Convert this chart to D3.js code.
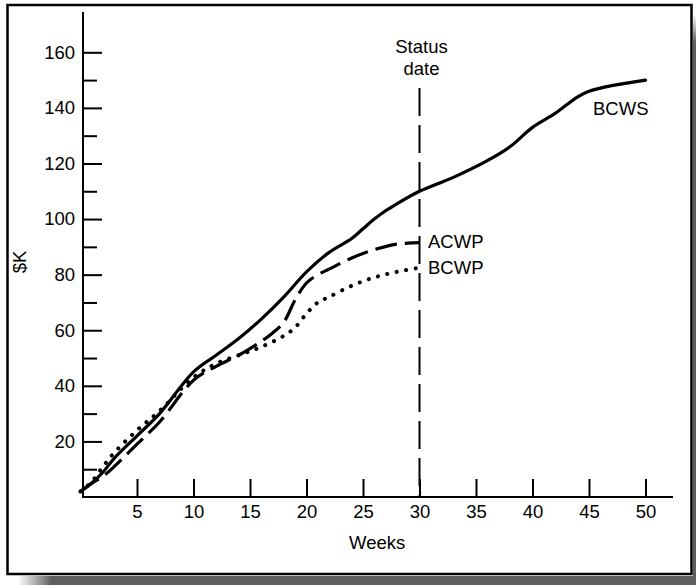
<!DOCTYPE html>
<html>
<head>
<meta charset="utf-8">
<script src="https://cdn.jsdelivr.net/npm/d3@7"></script>
<style>
  html, body { margin: 0; padding: 0; background: #fff; }
  svg { display: block; font-family: "Liberation Sans", Arial, Helvetica, sans-serif; }
</style>
</head>
<body>
<svg id="chart" width="696" height="585"></svg>
<script>
// Earned-value curves, $K by week
const bcwsWeeks  = [0, 1, 2, 3, 5, 7, 10, 12, 14, 16, 18, 20, 22, 24, 25, 26, 27, 28, 30, 33, 36, 38, 40, 42, 44, 45, 47, 50];
const bcwsValues = [2, 5, 9, 14, 22, 30, 45, 51, 57, 64, 72, 81, 88, 93, 96.5, 100, 103, 105.5, 110, 115, 121, 126, 133, 138, 144, 146, 148, 150];

const acwpWeeks  = [0, 1, 2, 3, 5, 7, 10, 12, 14, 16, 17, 18, 19, 20, 21, 22, 24, 26, 28, 30];
const acwpValues = [2, 5, 7.5, 11, 19, 27, 42, 47, 51, 56, 59, 63, 71, 77, 80, 82, 86, 89, 91, 91.5];

const bcwpWeeks  = [0, 1, 2, 3, 5, 7, 10, 12, 14, 16, 18, 19, 20, 21, 22, 24, 26, 28, 30];
const bcwpValues = [2, 5.5, 11, 16, 24, 31, 43, 48, 51, 54, 58, 61, 66, 70, 72, 76, 79, 81, 82.5];

const xTickValues = [5, 10, 15, 20, 25, 30, 35, 40, 45, 50];
const yTickValues = [20, 40, 60, 80, 100, 120, 140, 160];
const yMinorTicks = [10, 30, 50, 70, 90, 110, 130, 150];
const statusWeek = 30;

const svg = d3.select("#chart");
const FS = 18.5;

// Frame with drop shadow
const defs = svg.append("defs");
const gb = defs.append("linearGradient").attr("id", "shadowBottom")
  .attr("x1", "0").attr("x2", "1").attr("y1", "0").attr("y2", "0");
gb.append("stop").attr("offset", "0").attr("stop-color", "#ffffff");
gb.append("stop").attr("offset", "0.05").attr("stop-color", "#5e5e5e");
gb.append("stop").attr("offset", "1").attr("stop-color", "#5e5e5e");
const gr = defs.append("linearGradient").attr("id", "shadowRight")
  .attr("x1", "0").attr("x2", "0").attr("y1", "0").attr("y2", "1");
gr.append("stop").attr("offset", "0").attr("stop-color", "#ffffff");
gr.append("stop").attr("offset", "0.05").attr("stop-color", "#5e5e5e");
gr.append("stop").attr("offset", "1").attr("stop-color", "#5e5e5e");

svg.append("rect").attr("x", 18).attr("y", 576).attr("width", 678).attr("height", 9)
  .attr("fill", "url(#shadowBottom)");
svg.append("rect").attr("x", 693).attr("y", 14).attr("width", 3).attr("height", 571)
  .attr("fill", "url(#shadowRight)");
svg.append("rect").attr("x", 7.5).attr("y", 5).attr("width", 684).attr("height", 569)
  .attr("fill", "#fff").attr("stroke", "#000").attr("stroke-width", 2.5);

// Scales
const x = d3.scaleLinear().domain([0, 50]).range([80.5, 645.5]);
const y = d3.scaleLinear().domain([0, 160]).range([497, 52.3]);
const x0 = 83, y0 = y(0);

// Y axis: ticks point inward
const yAxis = d3.axisLeft(y).tickValues(yTickValues).tickSize(-19).tickPadding(8);
const gy = svg.append("g").attr("transform", `translate(${x0},0)`).call(yAxis);
gy.select(".domain").remove();
gy.selectAll(".tick line").attr("stroke", "#000").attr("stroke-width", 2);
gy.selectAll(".tick text").attr("font-size", FS).attr("fill", "#000");
svg.append("g").attr("transform", `translate(${x0},0)`)
  .call(d3.axisLeft(y).tickValues(yMinorTicks).tickSize(-14).tickFormat(""))
  .call(g => g.select(".domain").remove())
  .selectAll(".tick line").attr("stroke", "#000").attr("stroke-width", 2);

// X axis: ticks point upward
const xAxis = d3.axisBottom(x).tickValues(xTickValues).tickSize(-18).tickPadding(8);
const gx = svg.append("g").attr("transform", `translate(0,${y0})`).call(xAxis);
gx.select(".domain").remove();
gx.selectAll(".tick line").attr("stroke", "#000").attr("stroke-width", 2);
gx.selectAll(".tick text").attr("font-size", FS).attr("fill", "#000");

// Axis lines
svg.append("line").attr("x1", x0).attr("x2", x0).attr("y1", 12).attr("y2", y0 + 1)
  .attr("stroke", "#000").attr("stroke-width", 2);
svg.append("line").attr("x1", x0 - 1).attr("x2", 673).attr("y1", y0).attr("y2", y0)
  .attr("stroke", "#000").attr("stroke-width", 2);

// Axis titles
svg.append("text").attr("x", 349).attr("y", 549).attr("text-anchor", "start")
  .attr("font-size", FS).text("Weeks");
svg.append("text").attr("transform", "translate(26,262) rotate(-90)")
  .attr("text-anchor", "middle").attr("font-size", FS).text("$K");

// Status date marker
svg.append("line").attr("x1", x(statusWeek)).attr("x2", x(statusWeek))
  .attr("y1", 88).attr("y2", y0)
  .attr("stroke", "#000").attr("stroke-width", 2).attr("stroke-dasharray", "28,9");
svg.append("text").attr("x", x(statusWeek) + 2).attr("y", 53).attr("text-anchor", "middle")
  .attr("font-size", FS).text("Status");
svg.append("text").attr("x", x(statusWeek) + 2).attr("y", 75).attr("text-anchor", "middle")
  .attr("font-size", FS).text("date");

// Curves
const line = d3.line().x(d => x(d[0])).y(d => y(d[1])).curve(d3.curveCatmullRom.alpha(0.5));
const pairs = (ws, vs) => ws.map((w, i) => [w, vs[i]]);

svg.append("path").datum(pairs(bcwsWeeks, bcwsValues)).attr("d", line)
  .attr("fill", "none").attr("stroke", "#000").attr("stroke-width", 3.2)
  .attr("stroke-linecap", "round");
svg.append("path").datum(pairs(acwpWeeks, acwpValues)).attr("d", line)
  .attr("fill", "none").attr("stroke", "#000").attr("stroke-width", 3.2)
  .attr("stroke-dasharray", "22,8");
svg.append("path").datum(pairs(bcwpWeeks, bcwpValues)).attr("d", line)
  .attr("fill", "none").attr("stroke", "#000").attr("stroke-width", 4)
  .attr("stroke-linecap", "round").attr("stroke-dasharray", "0.1,9.5");

// Curve labels
svg.append("text").attr("x", 428).attr("y", 248).attr("font-size", FS).text("ACWP");
svg.append("text").attr("x", 428).attr("y", 274).attr("font-size", FS).text("BCWP");
svg.append("text").attr("x", 593).attr("y", 115).attr("font-size", FS).text("BCWS");
</script>
</body>
</html>
